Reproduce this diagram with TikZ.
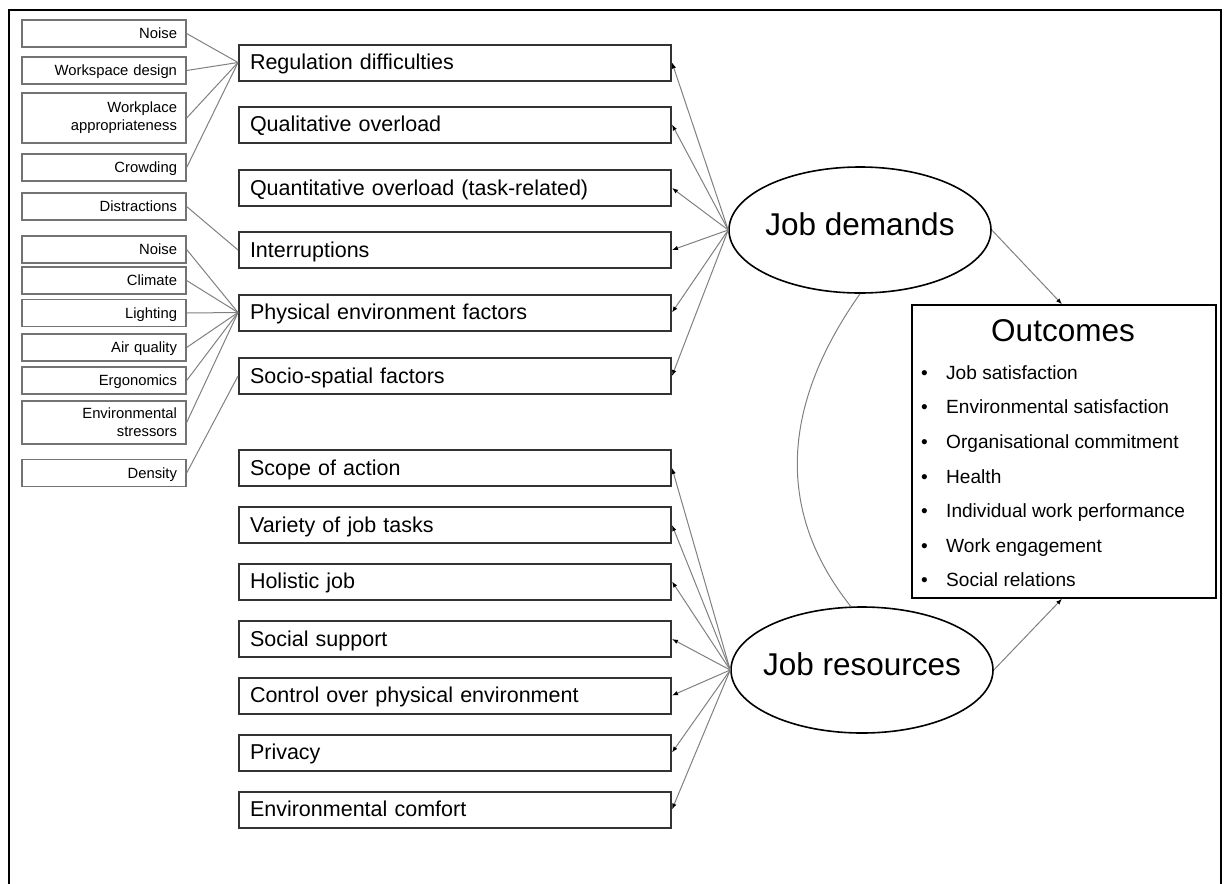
\documentclass[tikz,border=0pt]{standalone}
\usepackage{fontspec}
\setmainfont{Liberation Sans}
\usetikzlibrary{arrows.meta,shapes.geometric}

\begin{document}
\begin{tikzpicture}[x=1pt,y=-1pt,
  % small antecedent boxes on the left
  factor/.style={draw=black!55,line width=1.3pt,minimum width=164pt,
    inner xsep=9pt,inner ysep=0pt,text width=146pt,align=right,
    font=\fontsize{14.8}{18}\selectfont},
  factorone/.style={factor,minimum height=27pt,text height=10pt,text depth=0pt},
  % demand / resource boxes
  stage/.style={draw=black!80,line width=2pt,minimum width=432pt,minimum height=36pt,
    inner xsep=11pt,inner ysep=0pt,text width=410pt,align=left,
    text height=14pt,text depth=0pt,font=\fontsize{21.5}{24}\selectfont},
  construct/.style={ellipse,draw=black,line width=1.6pt,minimum width=262pt,
    minimum height=126pt,inner sep=0pt,font=\fontsize{31.5}{36}\selectfont},
  link/.style={draw=black!50,line width=1pt},
  arr/.style={link,-{Latex[length=6pt,width=4.5pt,color=black]}},
  item/.style={anchor=base west,inner sep=0pt,font=\fontsize{19.1}{22}\selectfont}
]
\useasboundingbox (0,0) rectangle (1227,884);
\draw[line width=2pt] (9,884) -- (9,10) -- (1221,10) -- (1221,884);

% antecedents
\node[factorone] (n1) at (104,33.5) {Noise};
\node[factorone] (n2) at (104,70.5) {Workspace design};
\node[factor,minimum height=50pt] (n3) at (104,118) {Workplace\\appropriateness};
\node[factorone] (n4) at (104,167.5) {Crowding};
\node[factorone] (n5) at (104,206.5) {Distractions};
\node[factorone] (n6) at (104,249.5) {Noise};
\node[factorone] (n7) at (104,280.5) {Climate};
\node[factorone] (n8) at (104,313) {Lighting};
\node[factorone] (n9) at (104,347.5) {Air quality};
\node[factorone] (n10) at (104,380.5) {Ergonomics};
\node[factor,minimum height=43pt] (n11) at (104,422.5) {Environmental\\stressors};
\node[factorone] (n12) at (104,473) {Density};

% job demands
\node[stage] (d1) at (455,62.5) {Regulation difficulties};
\node[stage] (d2) at (455,124.5) {Qualitative overload};
\node[stage] (d3) at (455,188) {Quantitative overload (task-related)};
\node[stage] (d4) at (455,250) {Interruptions};
\node[stage] (d5) at (455,312.5) {Physical environment factors};
\node[stage] (d6) at (455,376) {Socio-spatial factors};

% job resources
\node[stage] (r1) at (455,468) {Scope of action};
\node[stage] (r2) at (455,525) {Variety of job tasks};
\node[stage] (r3) at (455,581.5) {Holistic job};
\node[stage] (r4) at (455,639) {Social support};
\node[stage] (r5) at (455,695.5) {Control over physical environment};
\node[stage] (r6) at (455,752.5) {Privacy};
\node[stage] (r7) at (455,809.5) {Environmental comfort};

% latent constructs (zero-size text box keeps the ellipse at its set size)
\node[construct] (jd) at (860,230) {\raisebox{-5pt}[0pt][0pt]{\makebox[0pt]{Job demands}}};
\node[construct] (jr) at (862,670) {\raisebox{-5pt}[0pt][0pt]{\makebox[0pt]{Job resources}}};

% outcomes
\node[draw=black,line width=1.5pt,minimum width=304pt,minimum height=293pt,inner sep=0pt] (out) at (1064,451.5) {};
\node[anchor=base,inner sep=0pt,font=\fontsize{31.5}{36}\selectfont] (ot) at (1063,341) {Outcomes};
\node[item] (o1) at (921,379) {\makebox[25pt][l]{\textbullet}Job satisfaction};
\node[item] (o2) at (921,413) {\makebox[25pt][l]{\textbullet}Environmental satisfaction};
\node[item] (o3) at (921,448) {\makebox[25pt][l]{\textbullet}Organisational commitment};
\node[item] (o4) at (921,483) {\makebox[25pt][l]{\textbullet}Health};
\node[item] (o5) at (921,517) {\makebox[25pt][l]{\textbullet}Individual work performance};
\node[item] (o6) at (921,552) {\makebox[25pt][l]{\textbullet}Work engagement};
\node[item] (o7) at (921,586) {\makebox[25pt][l]{\textbullet}Social relations};

% antecedent links
\foreach \n in {n1,n2,n3,n4} \draw[link] (\n.east) -- (d1.west);
\draw[link] (n5.east) -- (d4.west);
\foreach \n in {n6,n7,n8,n9,n10,n11} \draw[link] (\n.east) -- (d5.west);
\draw[link] (n12.east) -- (d6.west);

% construct arrows
\foreach \d in {d1,d2,d3,d4,d5,d6} \draw[arr] (jd.west) -- (\d.east);
\foreach \r in {r1,r2,r3,r4,r5,r6,r7} \draw[arr] (jr.west) -- (\r.east);

% correlation between constructs
\draw[link] (jd.south) .. controls (778,410) and (778,515) .. (jr.100);

% paths to outcomes
\draw[arr] (jd.east) -- ([xshift=-2pt]out.north);
\draw[arr] (jr.east) -- ([xshift=-2pt]out.south);
\end{tikzpicture}
\end{document}
